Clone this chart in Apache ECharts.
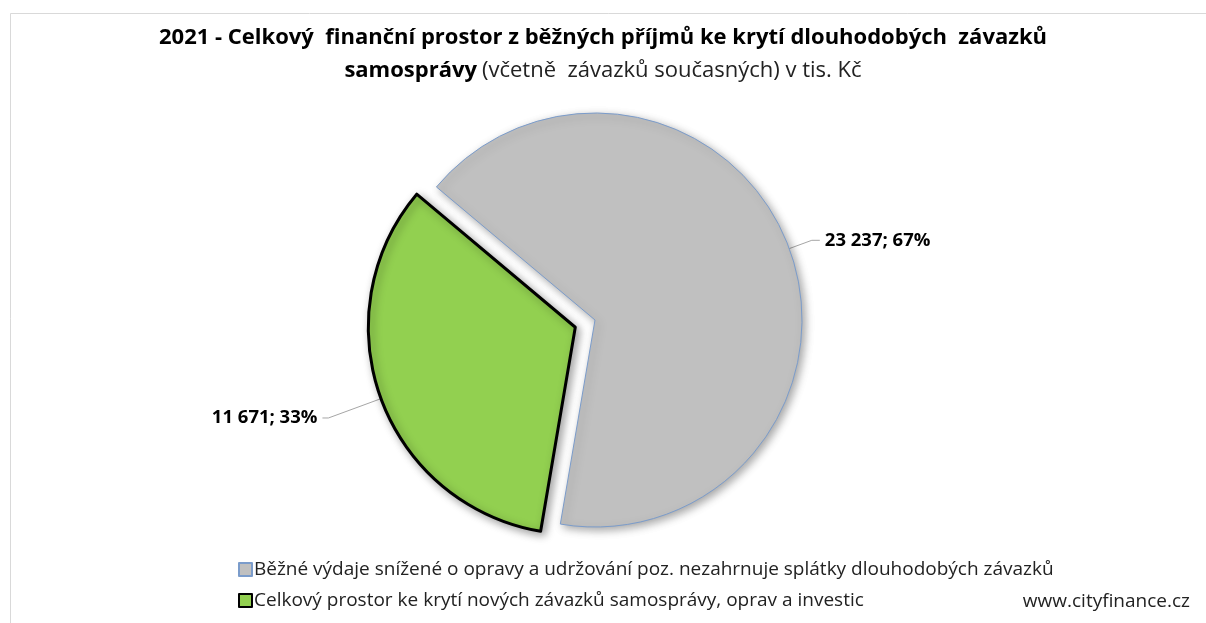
<!DOCTYPE html>
<html lang="cs">
<head>
    <meta charset="UTF-8">
    <title>Finanční prostor 2021</title>
    <script src="https://cdn.jsdelivr.net/npm/echarts@6/dist/echarts.min.js"></script>
    <style>
        html, body { margin: 0; padding: 0; background: #fff; }
        #chart { width: 1206px; height: 623px; }
    </style>
</head>
<body>
<div id="chart"></div>
<script type="text/javascript">

    // data z grafu (v tis. Kč)
    var categories = [
        'Běžné výdaje snížené o opravy a udržování poz. nezahrnuje splátky dlouhodobých závazků',
        'Celkový prostor ke krytí nových závazků samosprávy, oprav a investic'
    ];
    var values = [23237, 11671];
    var percents = ['67%', '33%'];
    var colors = ['#c0c0c0', '#92d050'];

    function fmtNum(v) {
        return String(v).replace(/\B(?=(\d{3})+(?!\d))/g, ' ');
    }

    var pieData = [];
    for (var i = 0; i < categories.length; i++) {
        pieData.push({
            name: categories[i],
            value: values[i],
            selected: i === 1,
            itemStyle: {
                color: colors[i],
                borderColor: i === 1 ? '#000' : '#7b9ccb',
                borderWidth: i === 1 ? 3 : 1
            },
            labelLine: i === 1 ? { length: 56, length2: 6 } : { length: 24, length2: 8 }
        });
    }

    var font = '"Open Sans", "Noto Sans", sans-serif';

    var option = {
        backgroundColor: '#fff',
        animation: false,
        title: {
            left: 'center',
            top: 16,
            text: '{b|2021 - Celkový  finanční prostor z běžných příjmů ke krytí dlouhodobých  závazků}\n{b|samosprávy} {n|(včetně  závazků současných) v tis. Kč}',
            textStyle: {
                rich: {
                    b: { fontFamily: font, fontSize: 22, fontWeight: 'bold', color: '#000', lineHeight: 33 },
                    n: { fontFamily: font, fontSize: 22, fontWeight: 'normal', color: '#222', lineHeight: 33 }
                }
            }
        },
        legend: {
            orient: 'vertical',
            left: 233,
            top: 555,
            itemWidth: 13,
            itemHeight: 13,
            itemGap: 12,
            icon: 'rect',
            textStyle: { fontFamily: font, fontSize: 19, color: '#222', padding: [0, 0, 0, -3] },
            data: categories
        },
        graphic: [
            {
                type: 'rect',
                shape: { x: 10.5, y: 13.5, width: 1220, height: 640 },
                style: { fill: null, stroke: '#d9d9d9', lineWidth: 1 },
                silent: true
            },
            {
                type: 'text',
                right: 16,
                top: 592,
                style: { text: 'www.cityfinance.cz', font: '19px ' + font, fill: '#222' }
            }
        ],
        series: [{
            type: 'pie',
            center: [595, 320],
            radius: 207,
            startAngle: 140,
            clockwise: true,
            selectedMode: 'single',
            selectedOffset: 21,
            itemStyle: {
                shadowBlur: 8,
                shadowOffsetX: 3,
                shadowOffsetY: 3,
                shadowColor: 'rgba(0,0,0,0.35)'
            },
            emphasis: { disabled: true },
            label: {
                show: true,
                position: 'outside',
                fontFamily: font,
                fontSize: 18.5,
                fontWeight: 'bold',
                color: '#000',
                formatter: function (p) {
                    return fmtNum(p.value) + '; ' + percents[p.dataIndex];
                }
            },
            labelLine: {
                show: true,
                lineStyle: { color: '#a6a6a6', width: 1 }
            },
            data: pieData
        }]
    };

    var chart = echarts.init(document.getElementById('chart'));
    chart.setOption(option);
</script>
</body>
</html>
